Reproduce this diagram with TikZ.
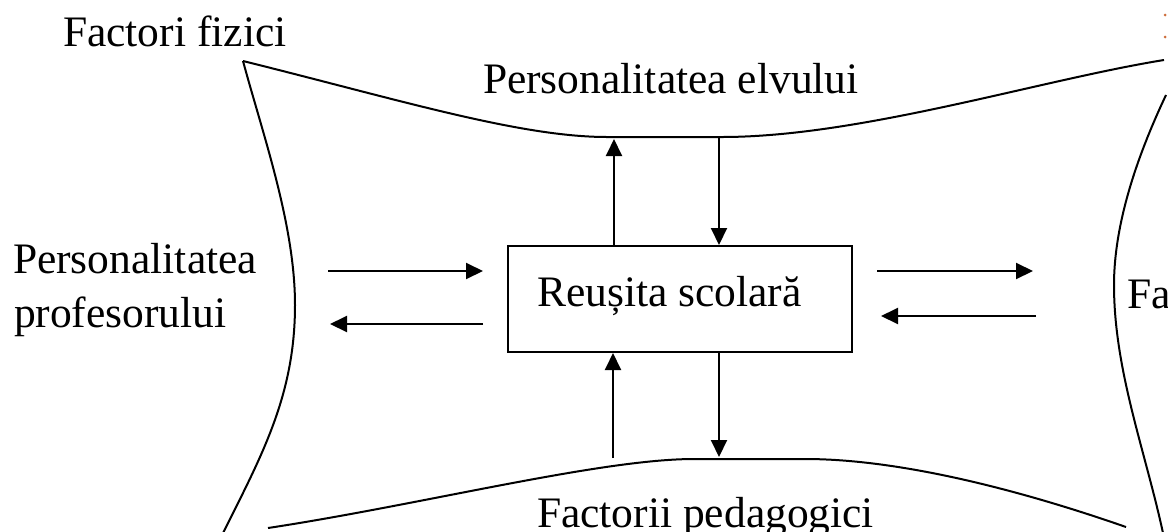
\documentclass[tikz,border=0pt]{standalone}
\usepackage{fontspec}
\setmainfont{Liberation Serif}
\usetikzlibrary{arrows.meta}
\definecolor{dotc}{RGB}{205,110,60}
\begin{document}
\begin{tikzpicture}[x=1pt,y=-1pt,line width=2pt,
  arr/.style={-{Triangle[length=17pt,width=16pt]},line width=2pt},
  lbl/.style={inner sep=0pt,anchor=base west,font=\fontsize{43.5}{50}\selectfont},
  boxst/.style={draw,line width=2pt,inner sep=0pt,minimum width=344pt,minimum height=106pt}]
\useasboundingbox (0,0) rectangle (1168,531);
\clip (0,0) rectangle (1168,531);
% boundary curves
\draw (243,61) .. controls (400,100) and (520,137) .. (607,137) -- (722,137)
      .. controls (860,137) and (1040,80) .. (1164,60);
\draw (243,61) .. controls (263,135) and (295,225) .. (295,305)
      .. controls (295,395) and (262,455) .. (223,533);
\draw (1166,95) .. controls (1140,150) and (1114,220) .. (1114,285)
      .. controls (1114,370) and (1145,450) .. (1163,533);
\draw (268,528) .. controls (420,505) and (600,459) .. (694,459) -- (805,459)
      .. controls (900,459) and (1020,490) .. (1126,527);
% texts
\node[lbl] (ff) at (62,46) {Factori fizici};
\node[lbl] (pe) at (482,93) {Personalitatea elvului};
\node[lbl] (pp1) at (12,273) {Personalitatea};
\node[lbl] (pp2) at (13,327) {profesorului};
\node[lbl] (fp) at (536,527) {Factorii pedagogici};
\node[lbl] (fa) at (1126,308) {Fa};
% central box
\node[boxst] (box) at (680,299) {};
\node[lbl] (rs) at (536,306) {Reușita scolară};
% free ends
\coordinate (tu) at (614,139);
\coordinate (td) at (719,138);
\coordinate (bu) at (613,458);
\coordinate (bd) at (719,457);
\coordinate (la) at (328,271);
\coordinate (lb) at (483,271);
\coordinate (lc) at (483,324);
\coordinate (ld) at (330,324);
\coordinate (ra) at (877,271);
\coordinate (rb) at (1033,271);
\coordinate (rc) at (1036,316);
\coordinate (rd) at (881,316);
% connectors
\draw[arr] (box.north -| tu) -- (tu);
\draw[arr] (td) -- (box.north -| td);
\draw[arr] (bu) -- (box.south -| bu);
\draw[arr] (box.south -| bd) -- (bd);
\draw[arr] (la) -- (lb);
\draw[arr] (lc) -- (ld);
\draw[arr] (ra) -- (rb);
\draw[arr] (rc) -- (rd);
% stray dots at the right edge
\fill[dotc] (1165,15) circle (1.5pt);
\fill[dotc] (1165,37) circle (1.5pt);
\end{tikzpicture}
\end{document}
